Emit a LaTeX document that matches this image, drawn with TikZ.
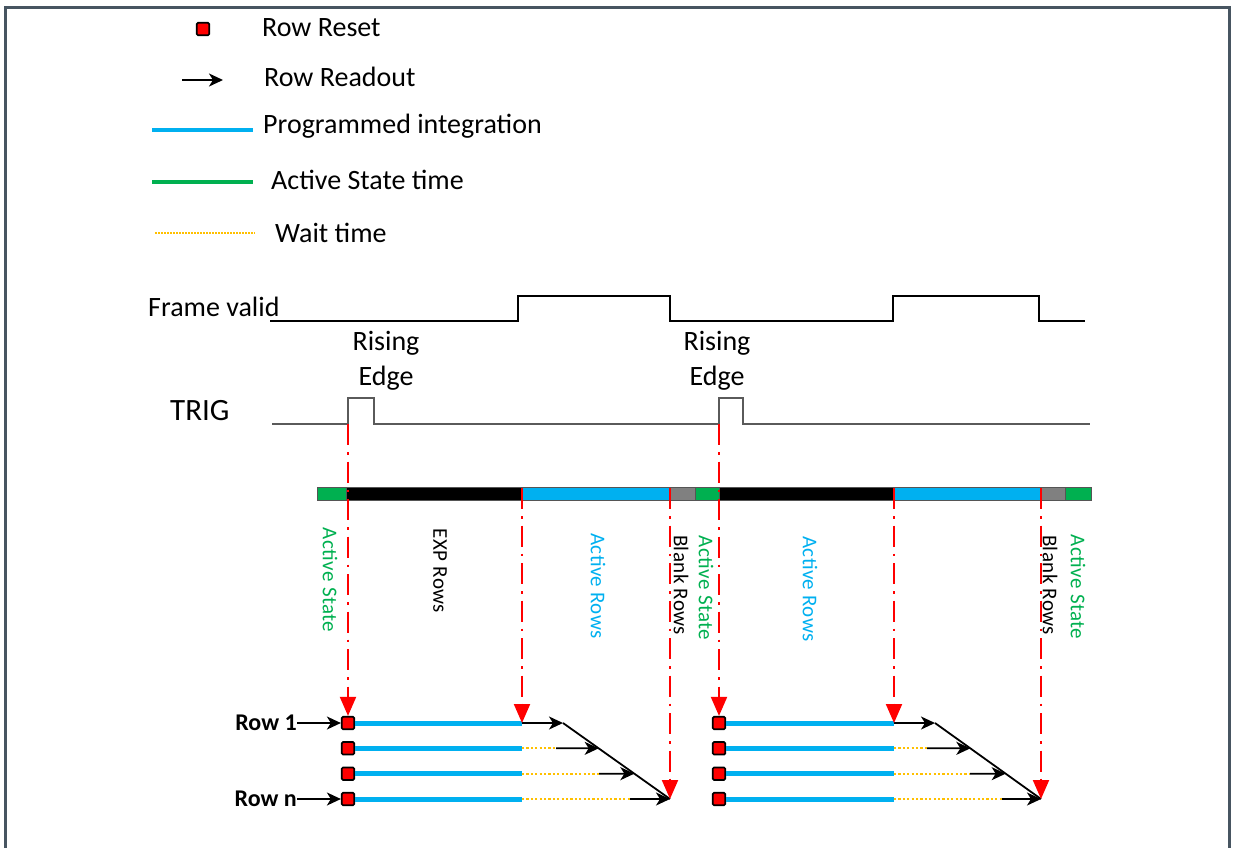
\documentclass[tikz,border=0pt]{standalone}
\usepackage{fontspec}
\setmainfont{Carlito}
\usetikzlibrary{arrows.meta,calc}
\definecolor{frm}{HTML}{475561}
\definecolor{ablue}{HTML}{00B0F0}
\definecolor{agreen}{HTML}{00B050}
\definecolor{waitc}{HTML}{FFC000}
\definecolor{sigc}{HTML}{5A5A5A}
\definecolor{segc}{HTML}{555555}
\begin{document}
\begin{tikzpicture}[x=1pt,y=-1pt,
  lbl/.style={font=\fontsize{28}{34}\selectfont, inner sep=0pt},
  rowlbl/.style={font=\fontsize{24}{28}\selectfont\bfseries, inner sep=0pt},
  vlbl/.style={font=\fontsize{21}{25}\selectfont\addfontfeature{LetterSpace=2}, rotate=-90, inner sep=0pt},
  reset/.style={draw=black, fill=red, line width=1.7pt, minimum size=12.5pt, inner sep=0pt, rounded corners=1.3pt},
  integ/.style={ablue, line width=5pt},
  waitl/.style={waitc, line width=2pt, dash pattern=on 2.2pt off 2.2pt},
  readout/.style={black, line width=1.8pt, -{Stealth[length=14pt,width=13pt,inset=4pt]}},
  trigar/.style={red, line width=2pt, dash pattern=on 21pt off 7pt on 2.5pt off 7pt, -{Triangle[length=19pt,width=16pt]}},
  seg/.style={draw=segc, line width=0.9pt},
  diag/.style={black, line width=1.8pt}
]
\useasboundingbox (0,0) rectangle (1235,847);
% frame
\draw[frm, line width=3pt] (5,860) -- (5,7) -- (1229,7) -- (1229,860);

% legend
\node[reset] (lg1) at (203,29) {};
\node[lbl, anchor=base west] (lt1) at (262,36) {Row Reset};
\coordinate (la1) at (182,80); \coordinate (la2) at (223,80);
\draw[readout] (la1) -- (la2);
\node[lbl, anchor=base west] (lt2) at (264,86) {Row Readout};
\coordinate (lb1) at (152,130); \coordinate (lb2) at (253,130);
\draw[ablue, line width=4.5pt] (lb1) -- (lb2);
\node[lbl, anchor=base west] (lt3) at (263,133) {Programmed integration};
\coordinate (lc1) at (152,182); \coordinate (lc2) at (253,182);
\draw[agreen, line width=4.5pt] (lc1) -- (lc2);
\node[lbl, anchor=base west] (lt4) at (271,189) {Active State time};
\coordinate (ld1) at (155,233); \coordinate (ld2) at (255,233);
\draw[waitc, line width=1.5pt, dash pattern=on 1.8pt off 1.2pt] (ld1) -- (ld2);
\node[lbl, anchor=base west] (lt5) at (275,242) {Wait time};

% Frame valid
\node[lbl, anchor=base west] (fv) at (148,316) {Frame valid};
\draw[black, line width=2.5pt] (270,321) -| (518,296) -| (670,321) -| (893,296) -| (1039,321) -- (1085,321);

% Rising edge labels
\node[lbl, anchor=base] (re1a) at (386,350) {Rising};
\node[lbl, anchor=base] (re1b) at (386,385) {Edge};
\node[lbl, anchor=base] (re2a) at (717,350) {Rising};
\node[lbl, anchor=base] (re2b) at (717,385) {Edge};

% TRIG
\node[lbl, font=\fontsize{31}{36}\selectfont, anchor=base west] (trig) at (170,420) {TRIG};
\draw[sigc, line width=1.8pt] (272,424) -| (348,398) -| (374,424) -| (719,398) -| (743,424) -- (1090,424);

% bar
\path[seg, fill=agreen] (317,487) rectangle (346,500);
\path[seg, fill=black]  (346,487) rectangle (522,500);
\path[seg, fill=ablue]  (522,487) rectangle (670,500);
\path[seg, fill=gray]   (670,487) rectangle (695,500);
\path[seg, fill=agreen] (695,487) rectangle (719,500);
\path[seg, fill=black]  (719,487) rectangle (894,500);
\path[seg, fill=ablue]  (894,487) rectangle (1041,500);
\path[seg, fill=gray]   (1041,487) rectangle (1065,500);
\path[seg, fill=agreen] (1065,487) rectangle (1091,500);

% vertical labels
\node[vlbl, text=agreen] (v1) at (330,580) {Active State};
\node[vlbl] (v2) at (440,571) {EXP Rows};
\node[vlbl, text=ablue] (v3) at (598,586) {Active Rows};
\node[vlbl] (v4) at (681,585) {Blank Rows};
\node[vlbl, text=agreen] (v5) at (706,588) {Active State};
\node[vlbl, text=ablue] (v6) at (810,589) {Active Rows};
\node[vlbl] (v7) at (1050,585) {Blank Rows};
\node[vlbl, text=agreen] (v8) at (1078,587) {Active State};

% ---------- rows group 1
\node[reset] (s1a) at (348,723) {};
\node[reset] (s1b) at (348,748.33) {};
\node[reset] (s1c) at (348,773.67) {};
\node[reset] (s1d) at (348,799) {};
\coordinate (e1a) at (522,723);
\coordinate (e1b) at (522,748.33);
\coordinate (e1c) at (522,773.67);
\coordinate (e1d) at (522,799);
\coordinate (k1) at (563,723);
\coordinate (d1) at (670,799);
\coordinate (w1b) at (556,748.33);
\coordinate (w1c) at (599,773.67);
\coordinate (w1d) at (630,799);
\draw[integ] (s1a.east) -- (e1a);
\draw[integ] (s1b.east) -- (e1b);
\draw[integ] (s1c.east) -- (e1c);
\draw[integ] (s1d.east) -- (e1d);
\draw[waitl] (e1b) -- (w1b);
\draw[waitl] (e1c) -- (w1c);
\draw[waitl] (e1d) -- (w1d);
\draw[diag] (k1) -- (d1);
\draw[readout] (e1a) -- (k1);
\draw[readout] (w1b) -- ($(k1)!1/3!(d1)$);
\draw[readout] (w1c) -- ($(k1)!2/3!(d1)$);
\draw[readout] (w1d) -- (d1);

\node[rowlbl, anchor=east] (r1) at (297,723) {Row 1};
\node[rowlbl, anchor=east] (rn) at (297,799) {Row n};
\draw[readout] (r1.east) -- (s1a.west);
\draw[readout] (rn.east) -- (s1d.west);

% ---------- rows group 2
\node[reset] (s2a) at (719,723) {};
\node[reset] (s2b) at (719,748.33) {};
\node[reset] (s2c) at (719,773.67) {};
\node[reset] (s2d) at (719,799) {};
\coordinate (e2a) at (894,723);
\coordinate (e2b) at (894,748.33);
\coordinate (e2c) at (894,773.67);
\coordinate (e2d) at (894,799);
\coordinate (k2) at (935,723);
\coordinate (d2) at (1041,799);
\coordinate (w2b) at (927,748.33);
\coordinate (w2c) at (970,773.67);
\coordinate (w2d) at (1002,799);
\draw[integ] (s2a.east) -- (e2a);
\draw[integ] (s2b.east) -- (e2b);
\draw[integ] (s2c.east) -- (e2c);
\draw[integ] (s2d.east) -- (e2d);
\draw[waitl] (e2b) -- (w2b);
\draw[waitl] (e2c) -- (w2c);
\draw[waitl] (e2d) -- (w2d);
\draw[diag] (k2) -- (d2);
\draw[readout] (e2a) -- (k2);
\draw[readout] (w2b) -- ($(k2)!1/3!(d2)$);
\draw[readout] (w2c) -- ($(k2)!2/3!(d2)$);
\draw[readout] (w2d) -- (d2);

% ---------- red trigger lines
\coordinate (t1) at (348,424);
\coordinate (t2) at (719,424);
\coordinate (b1) at (522,488);
\coordinate (b2) at (670,488);
\coordinate (b3) at (894,488);
\coordinate (b4) at (1041,488);
\draw[trigar] (t1) -- (s1a.north);
\draw[trigar] (b1) -- (e1a);
\draw[trigar] (b2) -- (d1);
\draw[trigar] (t2) -- (s2a.north);
\draw[trigar] (b3) -- (e2a);
\draw[trigar] (b4) -- (d2);
\end{tikzpicture}
\end{document}
